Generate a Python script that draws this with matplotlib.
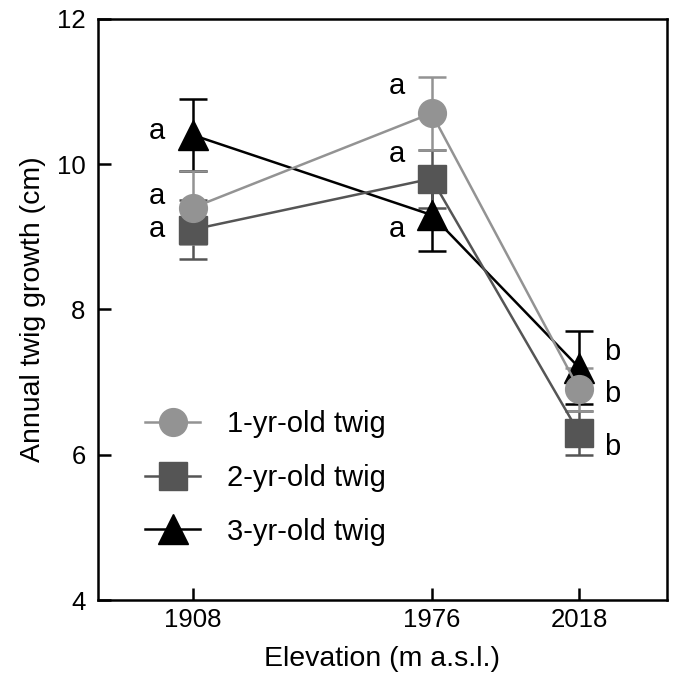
import numpy as np
import matplotlib.pyplot as plt

plt.rcParams['font.family'] = ['Liberation Sans', 'DejaVu Sans']

elevation = [1908, 1976, 2018]
series = ["1-yr-old twig", "2-yr-old twig", "3-yr-old twig"]
growth_1yr = [9.4, 10.7, 6.9]
err_1yr = [0.5, 0.5, 0.3]
growth_2yr = [9.1, 9.8, 6.3]
err_2yr = [0.4, 0.4, 0.3]
growth_3yr = [10.4, 9.3, 7.2]
err_3yr = [0.5, 0.5, 0.5]

# significance letters (x, y baseline, letter)
letter_x = [1897.8, 1897.8, 1897.8, 1966.2, 1966.2, 1966.2, 2027.4, 2027.4, 2027.4]
letter_y = [10.34, 9.45, 9.0, 10.97, 10.03, 9.0, 7.31, 6.73, 6.0]
letters = ["a", "a", "a", "a", "a", "a", "b", "b", "b"]

fig = plt.figure(figsize=(6.86, 6.79), dpi=100)
ax = fig.add_axes([0.143, 0.1163, 0.829, 0.856])

styles = [
    (growth_3yr, err_3yr, '^', '#000000', series[2]),
    (growth_2yr, err_2yr, 's', '#555555', series[1]),
    (growth_1yr, err_1yr, 'o', '#939393', series[0]),
]
handles = {}
for vals, errs, mk, col, lab in styles:
    h = ax.errorbar(elevation, vals, yerr=errs, marker=mk, color=col, markersize=20 if mk != '^' else 21,
                    lw=1.8, elinewidth=1.8, capsize=10, capthick=1.8, label=lab)
    handles[lab] = h[0]  # data line only, no caps in legend

for x, y, t in zip(letter_x, letter_y, letters):
    ax.text(x, y, t, fontsize=21, ha='center', va='baseline')

ax.set_xlim(1881, 2043)
ax.set_ylim(4, 12)
ax.set_xticks(elevation)
ax.set_yticks([4, 6, 8, 10, 12])
ax.tick_params(direction='in', length=9, width=1.8, labelsize=18.5)
ax.tick_params(axis='y', pad=9)
ax.tick_params(axis='x', pad=6)
for s in ax.spines.values():
    s.set_linewidth(1.8)
ax.set_xlabel("Elevation (m a.s.l.)", fontsize=20.5, labelpad=10)
ax.set_ylabel("Annual twig growth (cm)", fontsize=20.5, labelpad=8)

ax.legend([handles[s] for s in series], series, loc='center left', bbox_to_anchor=(0.062, 0.21),
          borderaxespad=0, frameon=False, fontsize=21, handlelength=1.9, labelspacing=0.88,
          handletextpad=0.9)

fig.savefig("out.png", dpi=100)
